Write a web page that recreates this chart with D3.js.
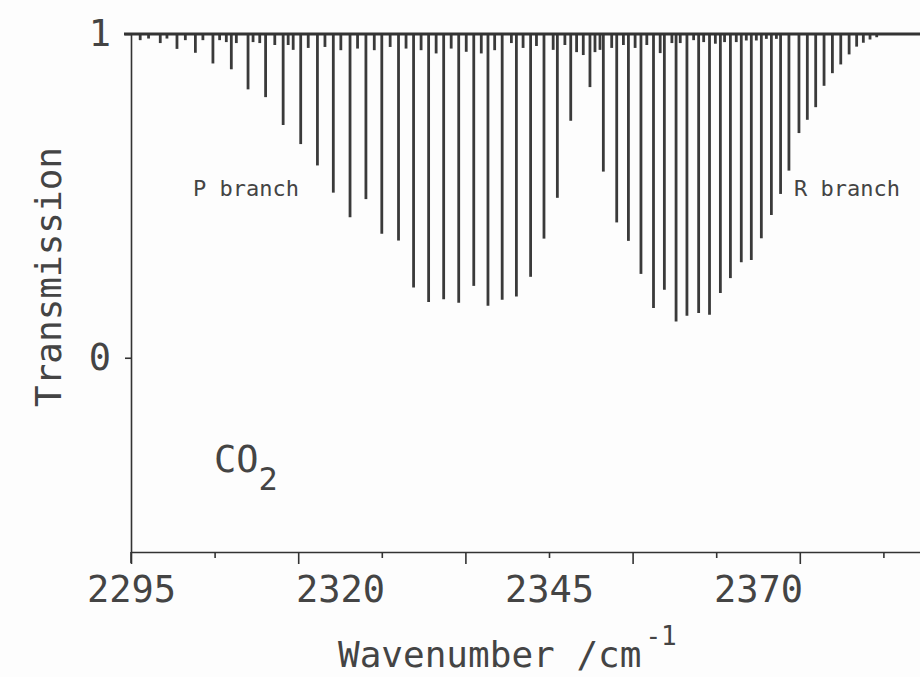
<!DOCTYPE html>
<html>
<head>
<meta charset="utf-8">
<script src="https://cdn.jsdelivr.net/npm/d3@7"></script>
<style>
  body { margin: 0; background: #fdfdfd; }
  svg { display: block; }
  text { font-family: "DejaVu Sans Mono", monospace; fill: #444; }
</style>
</head>
<body>
<div id="chart"></div>
<script>
// P branch lines (wavenumber, transmission)
const pBranchNu = [2296.1, 2298.5, 2300.5, 2302.7, 2304.8, 2307.0, 2309.0, 2311.1, 2313.2, 2315.3,
  2317.3, 2319.2, 2321.2, 2323.1, 2325.0, 2327.0, 2328.8, 2330.6, 2332.4, 2334.2,
  2336.0, 2337.7, 2339.4, 2341.1, 2342.8, 2344.4, 2346.0, 2347.6];
const pBranchT = [0.981, 0.972, 0.954, 0.942, 0.909, 0.891, 0.829, 0.805, 0.719, 0.660,
  0.594, 0.510, 0.434, 0.490, 0.383, 0.362, 0.217, 0.172, 0.181, 0.170,
  0.222, 0.161, 0.179, 0.189, 0.250, 0.368, 0.494, 0.732];

// R branch lines
const rBranchNu = [2349.9, 2351.5, 2353.1, 2354.5, 2356.0, 2357.5, 2358.8, 2360.2, 2361.5, 2362.9,
  2364.2, 2365.5, 2366.7, 2368.0, 2369.2, 2370.4, 2371.6, 2372.7, 2373.7, 2374.9,
  2375.9, 2376.9, 2377.9, 2378.9, 2379.9, 2380.9, 2381.8, 2382.6, 2383.4, 2384.2];
const rBranchT = [0.836, 0.575, 0.418, 0.361, 0.259, 0.154, 0.210, 0.112, 0.130, 0.138,
  0.133, 0.200, 0.246, 0.295, 0.302, 0.369, 0.441, 0.506, 0.578, 0.694,
  0.735, 0.774, 0.840, 0.879, 0.906, 0.937, 0.961, 0.973, 0.983, 0.990];

// weak (hot band) lines near the top
const weakNu = [2297.1, 2299.3, 2301.5, 2303.6, 2305.6, 2306.4, 2307.6, 2309.6, 2310.4, 2312.2,
  2313.8, 2314.4, 2316.2, 2318.2, 2320.1, 2322.1, 2324.1, 2326.0, 2327.9, 2329.7,
  2331.5, 2333.3, 2335.1, 2336.9, 2338.5, 2340.5, 2341.9, 2343.5, 2345.5, 2346.9,
  2348.3, 2349.1, 2350.5, 2351.1, 2352.5, 2353.9, 2355.3, 2356.7, 2358.3, 2359.7,
  2360.7, 2362.3, 2363.5, 2364.9, 2366.0, 2367.4, 2368.6, 2369.8, 2371.0, 2372.2];
const weakT = [0.986, 0.986, 0.981, 0.981, 0.981, 0.975, 0.972, 0.975, 0.972, 0.966,
  0.966, 0.951, 0.957, 0.960, 0.950, 0.955, 0.950, 0.960, 0.955, 0.950,
  0.940, 0.955, 0.945, 0.940, 0.950, 0.972, 0.957, 0.963, 0.951, 0.966,
  0.944, 0.935, 0.944, 0.951, 0.957, 0.966, 0.957, 0.966, 0.941, 0.972,
  0.972, 0.981, 0.975, 0.970, 0.975, 0.975, 0.980, 0.980, 0.985, 0.985];

// axis ticks
const xMajorTicks = [2295, 2315, 2335, 2355, 2375];
const xMinorTicks = [2305, 2325, 2345, 2365, 2385];
const xLabels = [2295, 2320, 2345, 2370];
const yLabels = [0, 1];

const width = 920;
const height = 677;

const svg = d3.select('#chart')
  .append('svg')
  .attr('width', width)
  .attr('height', height);

const x = d3.scaleLinear().domain([2295, 2395]).range([131, 967]);
const y = d3.scaleLinear().domain([-0.6, 1]).range([552, 34]);

const ink = '#333';

// --- spectrum lines
const allLines = []
  .concat(pBranchNu.map((nu, i) => ({nu: nu, t: pBranchT[i]})))
  .concat(rBranchNu.map((nu, i) => ({nu: nu, t: rBranchT[i]})))
  .concat(weakNu.map((nu, i) => ({nu: nu, t: weakT[i]})));

svg.append('g')
  .selectAll('line')
  .data(allLines)
  .enter()
  .append('line')
  .attr('x1', (d) => x(d.nu))
  .attr('x2', (d) => x(d.nu))
  .attr('y1', y(1))
  .attr('y2', (d) => y(d.t))
  .attr('stroke', '#3a3a3a')
  .attr('stroke-width', 2.8);

// baseline at transmission 1
svg.append('line')
  .attr('x1', 124).attr('x2', width)
  .attr('y1', y(1)).attr('y2', y(1))
  .attr('stroke', ink)
  .attr('stroke-width', 3);

// --- x axis
const xAxisMajor = d3.axisBottom(x).tickValues(xMajorTicks).tickSize(12).tickSizeOuter(0).tickFormat('');
const xAxisMinor = d3.axisBottom(x).tickValues(xMinorTicks).tickSize(6).tickSizeOuter(0).tickFormat('');
const xAxisLabels = d3.axisBottom(x).tickValues(xLabels).tickSize(0).tickPadding(24)
  .tickFormat(d3.format('d'));

const gx = svg.append('g').attr('transform', `translate(0,${y(-0.6)})`);
gx.call(xAxisMajor);
gx.append('g').call(xAxisMinor).select('.domain').remove();
gx.append('g').call(xAxisLabels).select('.domain').remove();
gx.selectAll('path, line').attr('stroke', ink).attr('stroke-width', 1.6);
gx.selectAll('text')
  .style('font-family', '"DejaVu Sans Mono", monospace')
  .style('font-size', '37px')
  .attr('fill', '#444');

// --- y axis
const yAxis = d3.axisLeft(y).tickValues(yLabels).tickSize(6).tickSizeOuter(0).tickPadding(14)
  .tickFormat(d3.format('d'));
const gy = svg.append('g').attr('transform', 'translate(131,0)');
gy.call(yAxis);
gy.selectAll('path, line').attr('stroke', ink).attr('stroke-width', 1.6);
gy.selectAll('text')
  .style('font-family', '"DejaVu Sans Mono", monospace')
  .style('font-size', '37px')
  .attr('fill', '#444');
// axis runs a little below the bottom axis
gy.append('line')
  .attr('x1', 0).attr('x2', 0)
  .attr('y1', y(-0.6)).attr('y2', y(-0.6) + 11)
  .attr('stroke', ink).attr('stroke-width', 1.6);

// --- titles
svg.append('text')
  .attr('transform', 'translate(61,277) rotate(-90)')
  .attr('text-anchor', 'middle')
  .style('font-size', '36px')
  .text('Transmission');

const xt = svg.append('text')
  .attr('x', 338)
  .attr('y', 667)
  .style('font-size', '36px');
xt.append('tspan').text('Wavenumber /cm');
xt.append('tspan').attr('dx', 4).attr('dy', -22).style('font-size', '26px').text('-1');

// --- annotations
svg.append('text').attr('x', 193).attr('y', 196).style('font-size', '22px').text('P branch');
svg.append('text').attr('x', 794).attr('y', 196).style('font-size', '22px').text('R branch');

const co2 = svg.append('text').attr('x', 214).attr('y', 472).style('font-size', '37px');
co2.append('tspan').text('CO');
co2.append('tspan').attr('dy', 18).style('font-size', '32px').text('2');
</script>
</body>
</html>
